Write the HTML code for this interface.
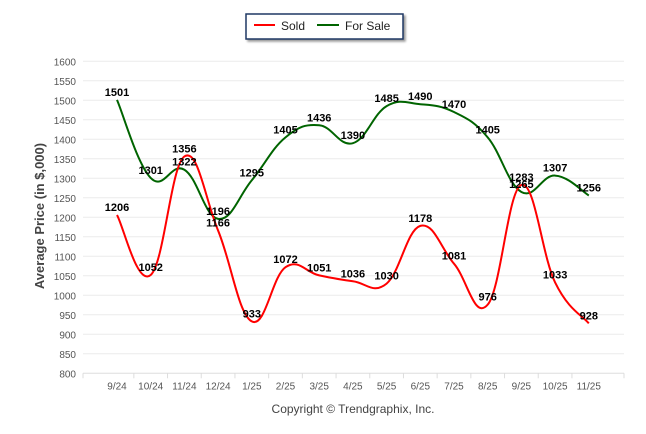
<!DOCTYPE html>
<html><head><meta charset="utf-8"><style>
html,body{margin:0;padding:0;background:#fff;}
svg{display:block;font-family:"Liberation Sans",Arial,sans-serif;}
</style></head><body>
<svg id="chart" width="646" height="434">
<g id="grid"></g>
<g id="yaxis"></g>
<g id="xaxis"></g>
<g id="series"></g>
<g id="labels"></g>
<text transform="translate(44,216) rotate(-90)" text-anchor="middle" font-size="13" font-weight="bold" fill="#444">Average Price (in $,000)</text>
<text x="353" y="413" text-anchor="middle" font-size="12" fill="#444">Copyright © Trendgraphix, Inc.</text>
<g>
<rect x="246" y="14" width="157" height="25" fill="#fff" stroke="#1f3864" stroke-width="1.5" style="filter:drop-shadow(2px 2px 1px #999)"/>
<g><line x1="254" y1="25" x2="275" y2="25" stroke="#f00" stroke-width="2"/><text x="281" y="30" font-size="12" fill="#222">Sold</text></g>
<g><line x1="317" y1="25" x2="339" y2="25" stroke="#006400" stroke-width="2"/><text x="345" y="30" font-size="12" fill="#222">For Sale</text></g>
</g>
</svg>
<script>
const categories=["9/24","10/24","11/24","12/24","1/25","2/25","3/25","4/25","5/25","6/25","7/25","8/25","9/25","10/25","11/25"];
const soldValues=[1206,1052,1356,1166,933,1072,1051,1036,1030,1178,1081,976,1283,1033,928];
const forSaleValues=[1501,1301,1322,1196,1295,1405,1436,1390,1485,1490,1470,1405,1265,1307,1256];
const yTicks=[800,850,900,950,1000,1050,1100,1150,1200,1250,1300,1350,1400,1450,1500,1550,1600];
const NS="http://www.w3.org/2000/svg";
const x0=117,dx=33.7,plotL=83,plotR=624,yMin=800,yMax=1600,yB=373.3,yT=61.3;
const xs=i=>x0+i*dx;
const ys=v=>yB-(v-yMin)/(yMax-yMin)*(yB-yT);
function mk(tag,attrs,parent){const e=document.createElementNS(NS,tag);for(const k in attrs)e.setAttribute(k,attrs[k]);parent.appendChild(e);return e;}
const grid=document.getElementById('grid'),ya=document.getElementById('yaxis'),xa=document.getElementById('xaxis'),sg=document.getElementById('series'),lg=document.getElementById('labels');
yTicks.forEach(t=>{
 const l=mk('line',{x1:plotL,x2:plotR,y1:ys(t),y2:ys(t),stroke:t===800?'#ddd':'#ebebeb','stroke-width':1},grid);
 
 
 const tx=mk('text',{x:76,y:ys(t)+4,'text-anchor':'end','font-size':10,fill:'#555'},ya);
 tx.textContent=t;
 
 
});
for(let i=0;i<=categories.length;i++){
 const x=i===0?plotL:(i===categories.length?plotR:xs(i)-dx/2);
 const tk=mk('line',{x1:x,x2:x,y1:yB,y2:yB+5,stroke:'#ddd'},xa);
 
 
}
categories.forEach((c,i)=>{
 const t=mk('text',{x:xs(i),y:yB+16,'text-anchor':'middle','font-size':10,fill:'#555'},xa);
 t.textContent=c;
 
 
});
function spline(vals){
 const p=vals.map((v,i)=>[xs(i),ys(v)]);
 let d='M'+p[0][0]+','+p[0][1];
 for(let i=0;i<p.length-1;i++){
  const a=p[Math.max(i-1,0)],b=p[i],c=p[i+1],e=p[Math.min(i+2,p.length-1)];
  const k=1/6*1.2;
  d+=` C${b[0]+(c[0]-a[0])*k},${b[1]+(c[1]-a[1])*k} ${c[0]-(e[0]-b[0])*k},${c[1]-(e[1]-b[1])*k} ${c[0]},${c[1]}`;
 }
 return d;
}
const ps=mk('path',{d:spline(forSaleValues),fill:'none',stroke:'#006400','stroke-width':2},sg);


const pd=mk('path',{d:spline(soldValues),fill:'none',stroke:'#f00','stroke-width':2},sg);


[soldValues,forSaleValues].forEach((arr,si)=>{
 arr.forEach((v,i)=>{
  const t=mk('text',{x:xs(i),y:ys(v)-4,'text-anchor':'middle','font-size':11,'font-weight':'bold',fill:'#000'},lg);
  t.textContent=v;
  
  
 });
});
</script>
</body></html>
